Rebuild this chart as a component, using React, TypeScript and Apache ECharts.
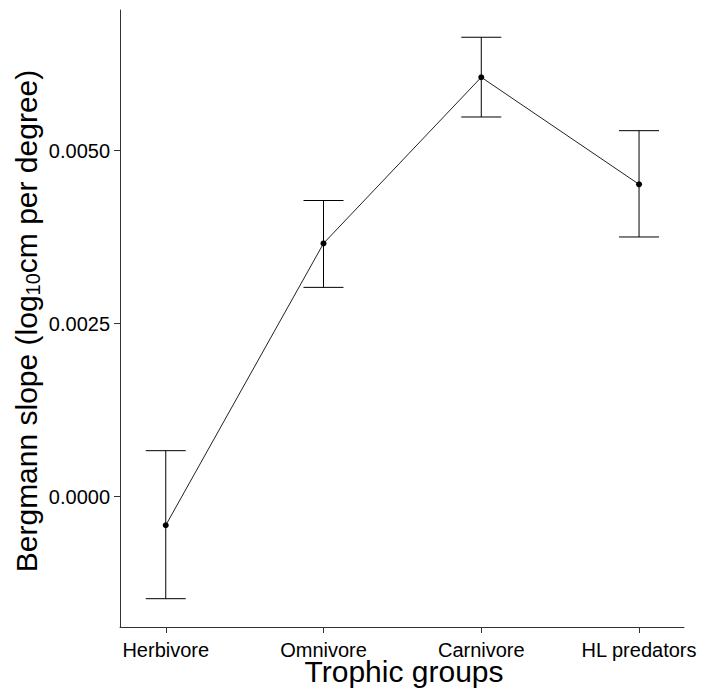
import React, { useEffect, useRef } from "react";
import * as echarts from "echarts";

const categories = ["Herbivore", "Omnivore", "Carnivore", "HL predators"];
const means = [-0.000413, 0.00366, 0.006061, 0.004514];
const lowers = [-0.001474, 0.003025, 0.005487, 0.003753];
const uppers = [0.000665, 0.00428, 0.006639, 0.005289];
const yTicks = [0, 0.0025, 0.005];
const xTicks = [0, 1, 2, 3];

export default function App() {
  const ref = useRef<HTMLDivElement>(null);
  useEffect(() => {
    if (!ref.current) return;
    const chart = echarts.init(ref.current, null, { renderer: "svg" });
    const font = "Liberation Sans, Arial, sans-serif";
    const lineData = means.map((v, i) => [i, v]);
    const errData = means.map((_, i) => [i, lowers[i], uppers[i]]);
    chart.setOption({
      animation: false,
      backgroundColor: "#ffffff",
      grid: { left: 120, right: 18, top: 10, bottom: 64 },
      xAxis: {
        type: "value",
        min: -0.29,
        max: 3.285,
        splitLine: { show: false },
        axisLine: { show: true, onZero: false, lineStyle: { color: "#333", width: 1 } },
        axisTick: { show: true, length: 6, customValues: xTicks, lineStyle: { color: "#333" } },
        axisLabel: {
          customValues: xTicks,
          margin: 13,
          fontSize: 20,
          fontFamily: font,
          color: "#000",
          formatter: (v: number) => categories[Math.round(v)] ?? "",
        },
      },
      yAxis: {
        type: "value",
        min: -0.001883,
        max: 0.007033,
        splitLine: { show: false },
        axisLine: { show: true, onZero: false, lineStyle: { color: "#333", width: 1 } },
        axisTick: { show: true, length: 6, customValues: yTicks, lineStyle: { color: "#333" } },
        axisLabel: {
          customValues: yTicks,
          margin: 10,
          fontSize: 20,
          fontFamily: font,
          color: "#000",
          padding: [8, 0, 0, 0],
          formatter: (v: number) => v.toFixed(4),
        },
      },
      graphic: [
        {
          type: "text",
          x: 26,
          y: 321,
          rotation: Math.PI / 2,
          style: {
            text: "{n|Bergmann slope (log}{s|10}{n|cm per degree)}",
            align: "center",
            verticalAlign: "middle",
            fill: "#000",
            rich: {
              n: { fontSize: 30, fontFamily: font, fill: "#000", lineHeight: 34, verticalAlign: "middle" },
              s: { fontSize: 20, fontFamily: font, fill: "#000", lineHeight: 34, verticalAlign: "bottom" },
            },
          },
        },
        {
          type: "text",
          x: 404,
          y: 671,
          style: {
            text: "Trophic groups",
            fontSize: 30,
            fontFamily: font,
            fill: "#000",
            align: "center",
            verticalAlign: "middle",
          },
        },
      ],
      series: [
        {
          type: "custom",
          data: errData,
          z: 2,
          renderItem: (params: any, api: any) => {
            const x = api.value(0);
            const lo = api.coord([x, api.value(1)]);
            const hi = api.coord([x, api.value(2)]);
            const hw = 20;
            const style = { stroke: "#000", lineWidth: 1 };
            return {
              type: "group",
              children: [
                { type: "line", shape: { x1: lo[0], y1: lo[1], x2: hi[0], y2: hi[1] }, style },
                { type: "line", shape: { x1: lo[0] - hw, y1: lo[1], x2: lo[0] + hw, y2: lo[1] }, style },
                { type: "line", shape: { x1: hi[0] - hw, y1: hi[1], x2: hi[0] + hw, y2: hi[1] }, style },
              ],
            };
          },
        },
        {
          type: "line",
          data: lineData,
          z: 3,
          symbol: "circle",
          symbolSize: 6,
          itemStyle: { color: "#000" },
          lineStyle: { color: "#222", width: 1 },
        },
      ],
    });
    return () => chart.dispose();
  }, []);
  return (
    <div
      ref={ref}
      style={{ position: "fixed", left: 0, top: 0, width: 702, height: 691, background: "#fff" }}
    />
  );
}
